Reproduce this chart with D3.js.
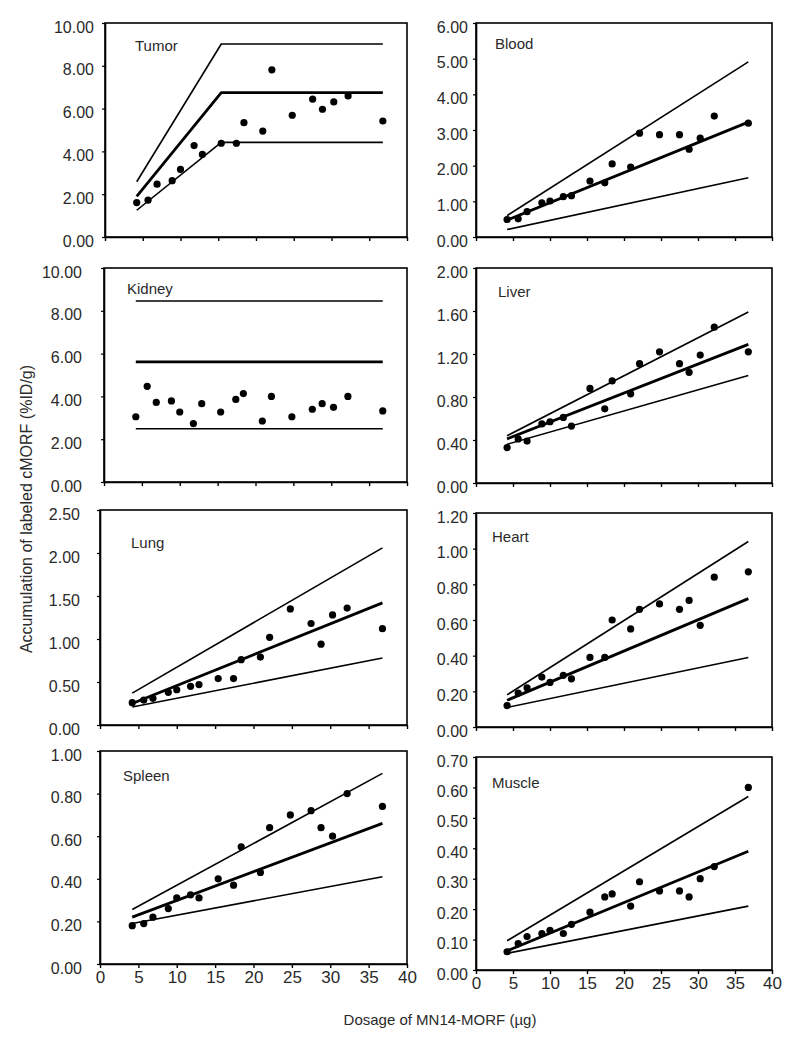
<!DOCTYPE html>
<html>
<head>
<meta charset="utf-8">
<script src="https://cdn.jsdelivr.net/npm/d3@7"></script>
<style>
  html, body { margin: 0; padding: 0; background: #fff; }
  svg { display: block; }
  text { font-family: "Liberation Sans", Arial, sans-serif; fill: #2a2a2a; }
</style>
</head>
<body>
<svg id="chart" width="800" height="1046"></svg>
<script>
// ---------------- DATA ----------------
const organs = ["Tumor", "Blood", "Kidney", "Liver", "Lung", "Heart", "Spleen", "Muscle"];
const dosage = [4.2, 5.7, 6.9, 8.9, 10.0, 11.8, 12.9, 15.4, 17.4, 18.4, 20.9, 22.1, 24.8, 27.5, 28.8, 30.3, 32.2, 36.8];
const xTicks = [0, 5, 10, 15, 20, 25, 30, 35, 40];

const tumorY  = [1.61, 1.72, 2.47, 2.63, 3.16, 4.27, 3.86, 4.38, 4.38, 5.34, 4.95, 7.81, 5.69, 6.44, 5.97, 6.31, 6.59, 5.42];
const bloodY  = [0.49, 0.51, 0.71, 0.96, 1.01, 1.13, 1.16, 1.57, 1.52, 2.05, 1.96, 2.91, 2.87, 2.87, 2.46, 2.77, 3.39, 3.19];
const kidneyY = [3.05, 4.47, 3.72, 3.79, 3.27, 2.73, 3.66, 3.27, 3.86, 4.13, 2.85, 4.00, 3.05, 3.40, 3.66, 3.49, 4.00, 3.32];
const liverY  = [0.33, 0.41, 0.39, 0.55, 0.57, 0.61, 0.53, 0.88, 0.69, 0.95, 0.83, 1.11, 1.22, 1.11, 1.03, 1.19, 1.45, 1.22];
const lungY   = [0.26, 0.29, 0.31, 0.38, 0.41, 0.45, 0.47, 0.54, 0.54, 0.76, 0.79, 1.02, 1.35, 1.18, 0.94, 1.28, 1.36, 1.12];
const heartY  = [0.12, 0.19, 0.22, 0.28, 0.25, 0.29, 0.27, 0.39, 0.39, 0.60, 0.55, 0.66, 0.69, 0.66, 0.71, 0.57, 0.84, 0.87];
const spleenY = [0.18, 0.19, 0.22, 0.26, 0.31, 0.325, 0.31, 0.40, 0.37, 0.55, 0.43, 0.64, 0.70, 0.72, 0.64, 0.60, 0.80, 0.74];
const muscleY = [0.06, 0.087, 0.11, 0.12, 0.13, 0.12, 0.15, 0.19, 0.24, 0.25, 0.21, 0.29, 0.26, 0.26, 0.24, 0.30, 0.34, 0.60];

// predicted lines: [dosage, value] vertices (upper, middle = best, lower)
const tumorUpper  = [[4.2, 2.58], [15.4, 9.02], [36.8, 9.02]];
const tumorMid    = [[4.2, 1.90], [15.4, 6.75], [36.8, 6.75]];
const tumorLower  = [[4.2, 1.25], [15.4, 4.42], [36.8, 4.42]];
const bloodUpper  = [[4.2, 0.60], [36.8, 4.91]];
const bloodMid    = [[4.2, 0.47], [36.8, 3.22]];
const bloodLower  = [[4.2, 0.21], [36.8, 1.66]];
const kidneyUpper = [[4.2, 8.46], [36.8, 8.46]];
const kidneyMid   = [[4.2, 5.61], [36.8, 5.61]];
const kidneyLower = [[4.2, 2.49], [36.8, 2.49]];
const liverUpper  = [[4.2, 0.44], [36.8, 1.59]];
const liverMid    = [[4.2, 0.41], [36.8, 1.29]];
const liverLower  = [[4.2, 0.36], [36.8, 1.00]];
const lungUpper   = [[4.2, 0.37], [36.8, 2.06]];
const lungMid     = [[4.2, 0.25], [36.8, 1.42]];
const lungLower   = [[4.2, 0.21], [36.8, 0.78]];
const heartUpper  = [[4.2, 0.18], [36.8, 1.04]];
const heartMid    = [[4.2, 0.15], [36.8, 0.72]];
const heartLower  = [[4.2, 0.11], [36.8, 0.39]];
const spleenUpper = [[4.2, 0.256], [36.8, 0.895]];
const spleenMid   = [[4.2, 0.22], [36.8, 0.66]];
const spleenLower = [[4.2, 0.19], [36.8, 0.41]];
const muscleUpper = [[4.2, 0.096], [36.8, 0.57]];
const muscleMid   = [[4.2, 0.063], [36.8, 0.39]];
const muscleLower = [[4.2, 0.055], [36.8, 0.21]];

const yTicksTumor  = [0, 2, 4, 6, 8, 10];
const yTicksBlood  = [0, 1, 2, 3, 4, 5, 6];
const yTicksKidney = [0, 2, 4, 6, 8, 10];
const yTicksLiver  = [0, 0.4, 0.8, 1.2, 1.6, 2.0];
const yTicksLung   = [0, 0.5, 1.0, 1.5, 2.0, 2.5];
const yTicksHeart  = [0, 0.2, 0.4, 0.6, 0.8, 1.0, 1.2];
const yTicksSpleen = [0, 0.2, 0.4, 0.6, 0.8, 1.0];
const yTicksMuscle = [0, 0.1, 0.2, 0.3, 0.4, 0.5, 0.6, 0.7];

const xTitle = "Dosage of MN14-MORF (µg)";
const yTitle = "Accumulation of labeled cMORF (%ID/g)";

// ---------------- LAYOUT (positions only) ----------------
const layout = [
  {x0: 105, x1: 407, y0: 23,  y1: 237, labR: 94,  lx: 135, ly: 51},
  {x0: 476, x1: 772, y0: 23,  y1: 237, labR: 468, lx: 495, ly: 49},
  {x0: 104, x1: 407, y0: 268, y1: 482, labR: 82,  lx: 127, ly: 294},
  {x0: 476, x1: 772, y0: 268, y1: 483, labR: 468, lx: 498, ly: 297},
  {x0: 100, x1: 407, y0: 510, y1: 725, labR: 80,  lx: 131, ly: 548},
  {x0: 476, x1: 772, y0: 513, y1: 727, labR: 468, lx: 492, ly: 542},
  {x0: 100, x1: 407, y0: 751, y1: 964, labR: 82,  lx: 123, ly: 781},
  {x0: 476, x1: 772, y0: 757, y1: 970, labR: 468, lx: 492, ly: 788}
];

const panelValues = [tumorY, bloodY, kidneyY, liverY, lungY, heartY, spleenY, muscleY];
const panelLines = [
  [tumorUpper, tumorMid, tumorLower],
  [bloodUpper, bloodMid, bloodLower],
  [kidneyUpper, kidneyMid, kidneyLower],
  [liverUpper, liverMid, liverLower],
  [lungUpper, lungMid, lungLower],
  [heartUpper, heartMid, heartLower],
  [spleenUpper, spleenMid, spleenLower],
  [muscleUpper, muscleMid, muscleLower]
];
const panelTicks = [yTicksTumor, yTicksBlood, yTicksKidney, yTicksLiver, yTicksLung, yTicksHeart, yTicksSpleen, yTicksMuscle];

// ---------------- DRAW ----------------
const svg = d3.select("#chart");
const fmt = d3.format(".2f");

organs.forEach((name, i) => {
  const L = layout[i];
  const ticks = panelTicks[i];
  const x = d3.scaleLinear().domain([0, 40]).range([L.x0, L.x1]);
  const y = d3.scaleLinear().domain([0, d3.max(ticks)]).range([L.y1, L.y0]);
  const g = svg.append("g");

  // frame
  g.append("rect")
    .attr("x", L.x0).attr("y", L.y0)
    .attr("width", L.x1 - L.x0).attr("height", L.y1 - L.y0)
    .attr("fill", "none").attr("stroke", "#000").attr("stroke-width", 1.6);

  // x axis ticks
  const showX = i >= 6;
  const xa = g.append("g").attr("transform", `translate(0,${L.y1})`)
    .call(d3.axisBottom(x).tickValues(xTicks).tickSize(4).tickSizeOuter(0).tickFormat(showX ? d3.format("d") : ""));
  xa.select(".domain").attr("stroke", "#000").attr("stroke-width", 1.6);
  xa.selectAll(".tick line").attr("stroke", "#000").attr("stroke-width", 1.4);
  xa.selectAll(".tick text")
    .attr("y", 18.5).attr("dy", null)
    .style("font-size", "17px")
    .style("font-family", '"Liberation Sans", Arial, sans-serif')
    .attr("fill", "#2a2a2a");

  // y axis
  const ya = g.append("g").attr("transform", `translate(${L.x0},0)`)
    .call(d3.axisLeft(y).tickValues(ticks).tickSize(3).tickSizeOuter(0).tickFormat(fmt));
  ya.select(".domain").attr("stroke", "#000").attr("stroke-width", 1.6);
  ya.selectAll(".tick line").attr("stroke", "#000").attr("stroke-width", 1.2);
  ya.selectAll(".tick text")
    .attr("x", -(L.x0 - L.labR)).attr("dy", "0.57em")
    .style("font-size", "16px")
    .style("font-family", '"Liberation Sans", Arial, sans-serif')
    .attr("fill", "#2a2a2a");

  // lines
  const line = d3.line().x(d => x(d[0])).y(d => y(d[1]));
  panelLines[i].forEach((pts, k) => {
    g.append("path")
      .attr("d", line(pts))
      .attr("fill", "none")
      .attr("stroke", "#000")
      .attr("stroke-width", k === 1 ? 2.8 : 1.6)
      .attr("stroke-linejoin", "round");
  });

  // dots
  g.selectAll("circle.dot").data(panelValues[i]).join("circle")
    .attr("class", "dot")
    .attr("cx", (d, j) => x(dosage[j]))
    .attr("cy", d => y(d))
    .attr("r", 3.6)
    .attr("fill", "#000");

  // panel label
  g.append("text").attr("x", L.lx).attr("y", L.ly)
    .style("font-size", "15px").text(name);
});

// axis titles
svg.append("text")
  .attr("x", 440).attr("y", 1025)
  .attr("text-anchor", "middle")
  .style("font-size", "15px")
  .text(xTitle);

svg.append("text")
  .attr("transform", "translate(32,509) rotate(-90)")
  .attr("text-anchor", "middle")
  .style("font-size", "16px")
  .text(yTitle);
</script>
</body>
</html>
